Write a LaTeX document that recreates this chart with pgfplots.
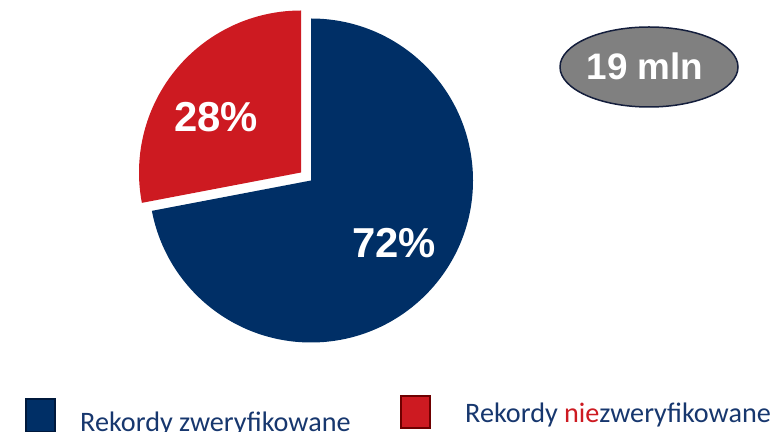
\documentclass[border=0pt]{standalone}
\usepackage{pgfplots}
\pgfplotsset{compat=1.18}
\usepackage{pgfplotstable}
\usepackage{fontspec}
\setmainfont{Liberation Sans}
\newfontfamily\carlito{Carlito}
\definecolor{pieblue}{RGB}{0,47,102}
\definecolor{piered}{RGB}{205,26,33}
\definecolor{legtext}{RGB}{23,55,110}
\definecolor{darkred}{RGB}{110,0,0}
\definecolor{darkblue}{RGB}{0,25,60}
\definecolor{ellgray}{RGB}{128,128,128}
\definecolor{ellborder}{RGB}{20,30,60}

\pgfplotstableread{
label value
zweryfikowane 72
niezweryfikowane 28
}\piedata
\pgfplotstablegetelem{0}{value}\of\piedata \let\va\pgfplotsretval
\pgfplotstablegetelem{1}{value}\of\piedata \let\vb\pgfplotsretval
\pgfmathsetmacro{\endA}{90-3.6*\va}
\pgfmathsetmacro{\endB}{90+3.6*\vb}

\begin{document}
\begin{tikzpicture}
\useasboundingbox (0,0) rectangle (772bp,432bp);
\begin{axis}[hide axis, scale only axis, width=772bp, height=432bp,
  xmin=0, xmax=772, ymin=0, ymax=432, clip=false,
  at={(0,0)}, anchor=south west]
% blue slice (72%)
\fill[pieblue] (axis cs:311,251.5) -- ++(90:162bp) arc[start angle=90, end angle=\endA, radius=162bp] -- cycle;
% red slice (28%), exploded
\fill[piered] (axis cs:301,259.5) -- ++(90:162bp) arc[start angle=90, end angle=\endB, radius=162bp] -- cycle;
\node[text=white, font=\bfseries\fontsize{42}{42}\selectfont] at (axis cs:216,315) {\vb\%};
\node[text=white, font=\bfseries\fontsize{42}{42}\selectfont] at (axis cs:394,189) {\va\%};
% ellipse
\draw[fill=ellgray, draw=ellborder, line width=1.5bp] (axis cs:649,365) ellipse [x radius=89bp, y radius=40bp];
\node[text=white, font=\bfseries\fontsize{37}{37}\selectfont] at (axis cs:645,366) {19 mln};
% legend
\filldraw[fill=pieblue, draw=darkblue, line width=1.5bp] (axis cs:26,0) rectangle (axis cs:55,33);
\filldraw[fill=piered, draw=darkred, line width=1.5bp] (axis cs:401,4) rectangle (axis cs:430,36);
\node[anchor=base west, inner sep=0pt, text=legtext, font=\carlito\fontsize{28.3}{28.3}\selectfont] at (axis cs:80,1) {Rekordy zweryfikowane};
\node[anchor=base west, inner sep=0pt, text=legtext, font=\carlito\fontsize{28.3}{28.3}\selectfont] at (axis cs:465,10) {Rekordy \textcolor{piered}{nie}zweryfikowane};
\end{axis}
\end{tikzpicture}
\end{document}
